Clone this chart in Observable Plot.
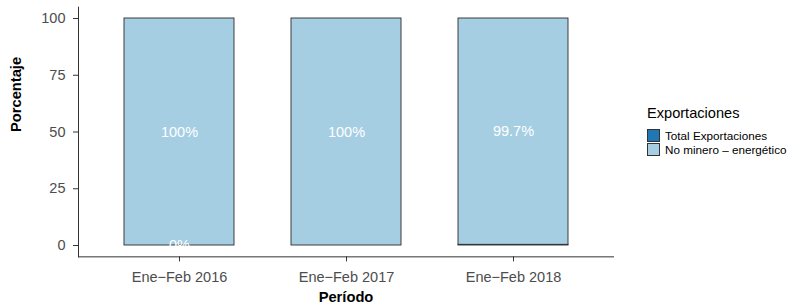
<!DOCTYPE html>
<html>
<head>
<meta charset="utf-8">
<script src="https://cdn.jsdelivr.net/npm/d3@7"></script>
<script src="https://cdn.jsdelivr.net/npm/@observablehq/plot@0.6"></script>
<style>
  html, body { margin: 0; padding: 0; background: #fff; }
  #wrap { position: relative; width: 798px; height: 305px; font-family: "Liberation Sans", Arial, Helvetica, sans-serif; }
  #legend { position: absolute; left: 647px; top: 106px; color: #000; }
  #legend .title { font-size: 14.6px; line-height: 15px; height: 15px; margin-bottom: 7px; white-space: nowrap; }
  #legend .item { display: flex; align-items: center; height: 14px; white-space: nowrap; font-size: 11.7px; }
  #legend .key { border: 1px solid #333; box-sizing: border-box; width: 13px; height: 13px; margin-right: 5px; }
</style>
</head>
<body>
<div id="wrap"></div>
<script>
const periods = ["Ene\u2212Feb 2016", "Ene\u2212Feb 2017", "Ene\u2212Feb 2018"];
const seriesNames = ["Total Exportaciones", "No minero \u2013 energ\u00e9tico"];
const seriesColors = ["#1f78b4", "#a6cee3"];
const totalValues = [0, 0, 0.3];
const noMineroValues = [100, 100, 99.7];
const totalLabels = ["0%", "", ""];
const noMineroLabels = ["100%", "100%", "99.7%"];
const yTicks = [0, 25, 50, 75, 100];

const rows = [];
periods.forEach((p, i) => rows.push({period: p, series: seriesNames[0], value: totalValues[i], label: totalLabels[i]}));
periods.forEach((p, i) => rows.push({period: p, series: seriesNames[1], value: noMineroValues[i], label: noMineroLabels[i]}));

const font = "Liberation Sans, Arial, Helvetica, sans-serif";

const chart = Plot.plot({
  width: 798,
  height: 305,
  marginLeft: 78,
  marginRight: 185,
  marginTop: 6.65,
  marginBottom: 48.65,
  style: {fontFamily: font, background: "white", overflow: "visible"},
  x: {domain: periods, paddingInner: 0.342, paddingOuter: 0.271, label: null},
  y: {domain: [-5, 105], label: null},
  color: {domain: seriesNames, range: seriesColors},
  marks: [
    Plot.barY(rows, {x: "period", y: "value", fill: "series", stroke: "#2b2b2b", strokeWidth: 0.9}),
    Plot.text(rows, Plot.stackY({x: "period", y: "value", z: "series", text: "label", fill: "white", fontSize: 14.5})),
    Plot.axisY({ticks: yTicks, tickSize: 5, text: null, stroke: "#333", label: null}),
    Plot.axisY({ticks: yTicks, tickSize: 0, tickPadding: 13, fill: "#4d4d4d", fontSize: 14.5, label: null}),
    Plot.axisX({tickSize: 5, text: null, stroke: "#333", label: null}),
    Plot.axisX({tickSize: 0, tickPadding: 15, fill: "#4d4d4d", fontSize: 14.5, label: null}),
    Plot.frame({anchor: "left", stroke: "#333"}),
    Plot.frame({anchor: "bottom", stroke: "#333"}),
    Plot.text(["Per\u00edodo"], {frameAnchor: "bottom", lineAnchor: "bottom", dy: 45.5, fontWeight: "bold", fontSize: 14.7, fill: "#000"}),
    Plot.text(["Porcentaje"], {frameAnchor: "left", lineAnchor: "bottom", rotate: -90, dx: -57.5, fontWeight: "bold", fontSize: 14.7, fill: "#000"})
  ]
});

const wrap = document.getElementById("wrap");
wrap.appendChild(chart);

const legend = document.createElement("div");
legend.id = "legend";
const title = document.createElement("div");
title.className = "title";
title.textContent = "Exportaciones";
legend.appendChild(title);
seriesNames.forEach((name, i) => {
  const item = document.createElement("div");
  item.className = "item";
  const key = document.createElement("span");
  key.className = "key";
  key.style.background = seriesColors[i];
  const lab = document.createElement("span");
  lab.textContent = name;
  item.appendChild(key);
  item.appendChild(lab);
  legend.appendChild(item);
});
wrap.appendChild(legend);
</script>
</body>
</html>
